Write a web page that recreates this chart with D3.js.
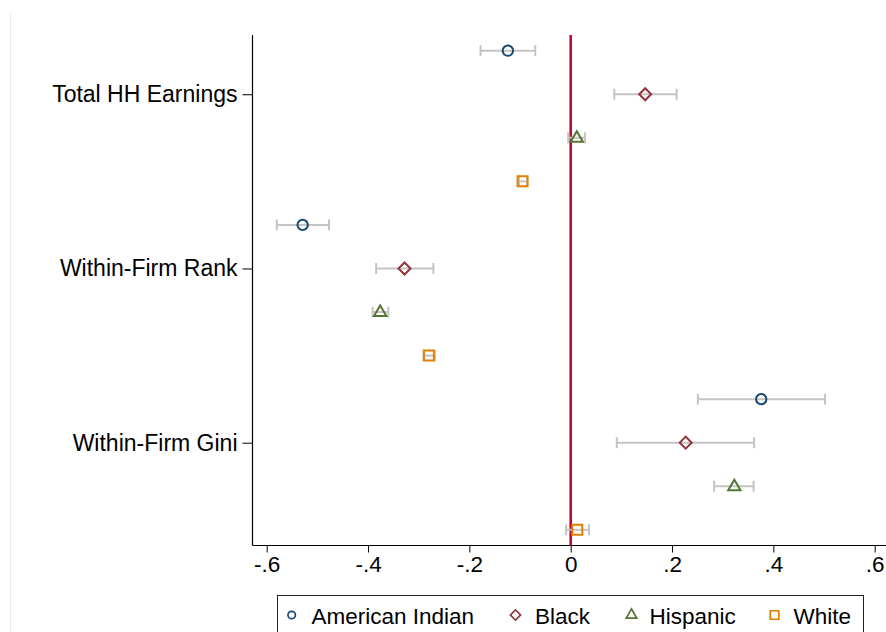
<!DOCTYPE html>
<html>
<head>
<meta charset="utf-8">
<script src="https://cdn.jsdelivr.net/npm/d3@7"></script>
<style>
  html, body { margin: 0; padding: 0; background: #fff; }
  svg { display: block; font-family: "Liberation Sans", Arial, Helvetica, sans-serif; }
</style>
</head>
<body>
<svg id="chart" width="886" height="632"></svg>
<script>
// Outcome rows (top to bottom) and group series
const categories = ["Total HH Earnings", "Within-Firm Rank", "Within-Firm Gini"];
const groups = ["American Indian", "Black", "Hispanic", "White"];

// Point estimates, one value per outcome row
const estAmericanIndian = [-0.124, -0.529, 0.376];
const estBlack          = [ 0.147, -0.328, 0.227];
const estHispanic       = [ 0.012, -0.376, 0.323];
const estWhite          = [-0.095, -0.280, 0.013];

// Confidence interval bounds
const lowAmericanIndian = [-0.178, -0.580, 0.251];
const lowBlack          = [ 0.086, -0.384, 0.091];
const lowHispanic       = [-0.005, -0.391, 0.283];
const lowWhite          = [-0.102, -0.290, -0.009];

const highAmericanIndian = [-0.070, -0.477, 0.502];
const highBlack          = [ 0.209, -0.271, 0.362];
const highHispanic       = [ 0.028, -0.360, 0.361];
const highWhite          = [-0.086, -0.268, 0.036];

const xTicks = [-0.6, -0.4, -0.2, 0, 0.2, 0.4, 0.6];
const xTickLabels = ["-.6", "-.4", "-.2", "0", ".2", ".4", ".6"];

const estimates = [estAmericanIndian, estBlack, estHispanic, estWhite];
const lows = [lowAmericanIndian, lowBlack, lowHispanic, lowWhite];
const highs = [highAmericanIndian, highBlack, highHispanic, highWhite];

const colors = ["#1a476f", "#90353b", "#55752f", "#e37e00"];
const symbolTypes = ["circle", "diamond", "triangle", "square"];

// Flatten into one row per (outcome, group)
const rows = [];
categories.forEach((c, ci) => {
  groups.forEach((g, gi) => {
    rows.push({ key: ci + "-" + gi, ci, gi, est: estimates[gi][ci], lo: lows[gi][ci], hi: highs[gi][ci] });
  });
});

const svg = d3.select("#chart");
const W = 886, H = 632;

const plotLeft = 252.5, plotTop = 35, plotBottom = 545.5;

const x = d3.scaleLinear().domain([-0.6, 0.6]).range([266.7, 874.7]);
const y = d3.scalePoint().domain(rows.map(r => r.key)).range([plotTop, plotBottom]).padding(0.36);

// faint outer frame edge on the left
svg.append("line")
  .attr("x1", 10.5).attr("x2", 10.5).attr("y1", 12).attr("y2", H)
  .attr("stroke", "#ececec").attr("stroke-width", 1);

// X axis
const xAxis = d3.axisBottom(x)
  .tickValues(xTicks)
  .tickFormat((d, i) => xTickLabels[i])
  .tickSizeOuter(0)
  .tickSize(7)
  .tickPadding(4);
const gx = svg.append("g").attr("transform", `translate(0,${plotBottom})`).call(xAxis);
gx.select(".domain").remove();
gx.selectAll(".tick line").attr("stroke", "#000").attr("stroke-width", 1);
gx.selectAll(".tick text").attr("fill", "#000").attr("font-size", 22.5)
  .attr("font-family", "Liberation Sans, Arial, sans-serif");
svg.append("line")
  .attr("x1", plotLeft).attr("x2", W).attr("y1", plotBottom).attr("y2", plotBottom)
  .attr("stroke", "#000").attr("stroke-width", 1);

// Y axis: one labelled tick per outcome, at its second row
const yAxis = d3.axisLeft(y)
  .tickValues(categories.map((c, ci) => ci + "-1"))
  .tickFormat(k => categories[+k.split("-")[0]])
  .tickSizeOuter(0)
  .tickSize(10)
  .tickPadding(5);
const gy = svg.append("g").attr("transform", `translate(${plotLeft},0)`).call(yAxis);
gy.select(".domain").remove();
gy.selectAll(".tick line").attr("stroke", "#000").attr("stroke-width", 1);
gy.selectAll(".tick text").attr("fill", "#000").attr("font-size", 23)
  .attr("font-family", "Liberation Sans, Arial, sans-serif");
svg.append("line")
  .attr("x1", plotLeft).attr("x2", plotLeft).attr("y1", plotTop).attr("y2", plotBottom)
  .attr("stroke", "#000").attr("stroke-width", 1.2);

// reference line at zero
svg.append("line")
  .attr("x1", x(0)).attr("x2", x(0)).attr("y1", plotTop).attr("y2", plotBottom)
  .attr("stroke", "#c10534").attr("stroke-width", 2.6);

// confidence intervals with caps
const capHalf = 5.5;
const ci = svg.append("g").attr("stroke", "#c4c4c4").attr("stroke-width", 2).attr("fill", "none");
rows.forEach(r => {
  const yy = y(r.key);
  ci.append("line").attr("x1", x(r.lo)).attr("x2", x(r.hi)).attr("y1", yy).attr("y2", yy);
  ci.append("line").attr("x1", x(r.lo)).attr("x2", x(r.lo)).attr("y1", yy - capHalf).attr("y2", yy + capHalf);
  ci.append("line").attr("x1", x(r.hi)).attr("x2", x(r.hi)).attr("y1", yy - capHalf).attr("y2", yy + capHalf);
});

// hollow marker shapes
function markerPath(type, scale) {
  const s = scale || 1;
  if (type === "circle") return d3.symbol(d3.symbolCircle, 84 * s * s)();
  if (type === "diamond") return d3.symbol(d3.symbolSquare, 72 * s * s)();
  if (type === "triangle") return d3.symbol(d3.symbolTriangle, 66 * s * s)();
  return d3.symbol(d3.symbolSquare, 100 * s * s)();
}

const marks = svg.append("g");
rows.forEach(r => {
  const t = symbolTypes[r.gi];
  const rot = t === "diamond" ? " rotate(45)" : "";
  const dy = t === "triangle" ? 0.5 : 0;
  marks.append("path")
    .attr("d", markerPath(t))
    .attr("transform", `translate(${x(r.est)},${y(r.key) + dy})${rot}`)
    .attr("fill", "none")
    .attr("stroke", colors[r.gi])
    .attr("stroke-width", 2);
});

// Legend
const legend = svg.append("g");
legend.append("rect")
  .attr("x", 277.5).attr("y", 595.5).attr("width", 586).attr("height", 60)
  .attr("fill", "#fff").attr("stroke", "#222").attr("stroke-width", 1);
const legendSymX = [291.7, 515.5, 631.5, 774.5];
const legendTextX = [311.5, 535, 649.5, 793.5];
groups.forEach((g, gi) => {
  const t = symbolTypes[gi];
  const rot = t === "diamond" ? " rotate(45)" : "";
  legend.append("path")
    .attr("d", markerPath(t, t === "circle" ? 0.72 : 0.85))
    .attr("transform", `translate(${legendSymX[gi]},615)${rot}`)
    .attr("fill", "none")
    .attr("stroke", colors[gi])
    .attr("stroke-width", 1.7);
  legend.append("text")
    .attr("x", legendTextX[gi]).attr("y", 623.5)
    .attr("font-size", 22.5).attr("fill", "#000")
    .text(g);
});
</script>
</body>
</html>
